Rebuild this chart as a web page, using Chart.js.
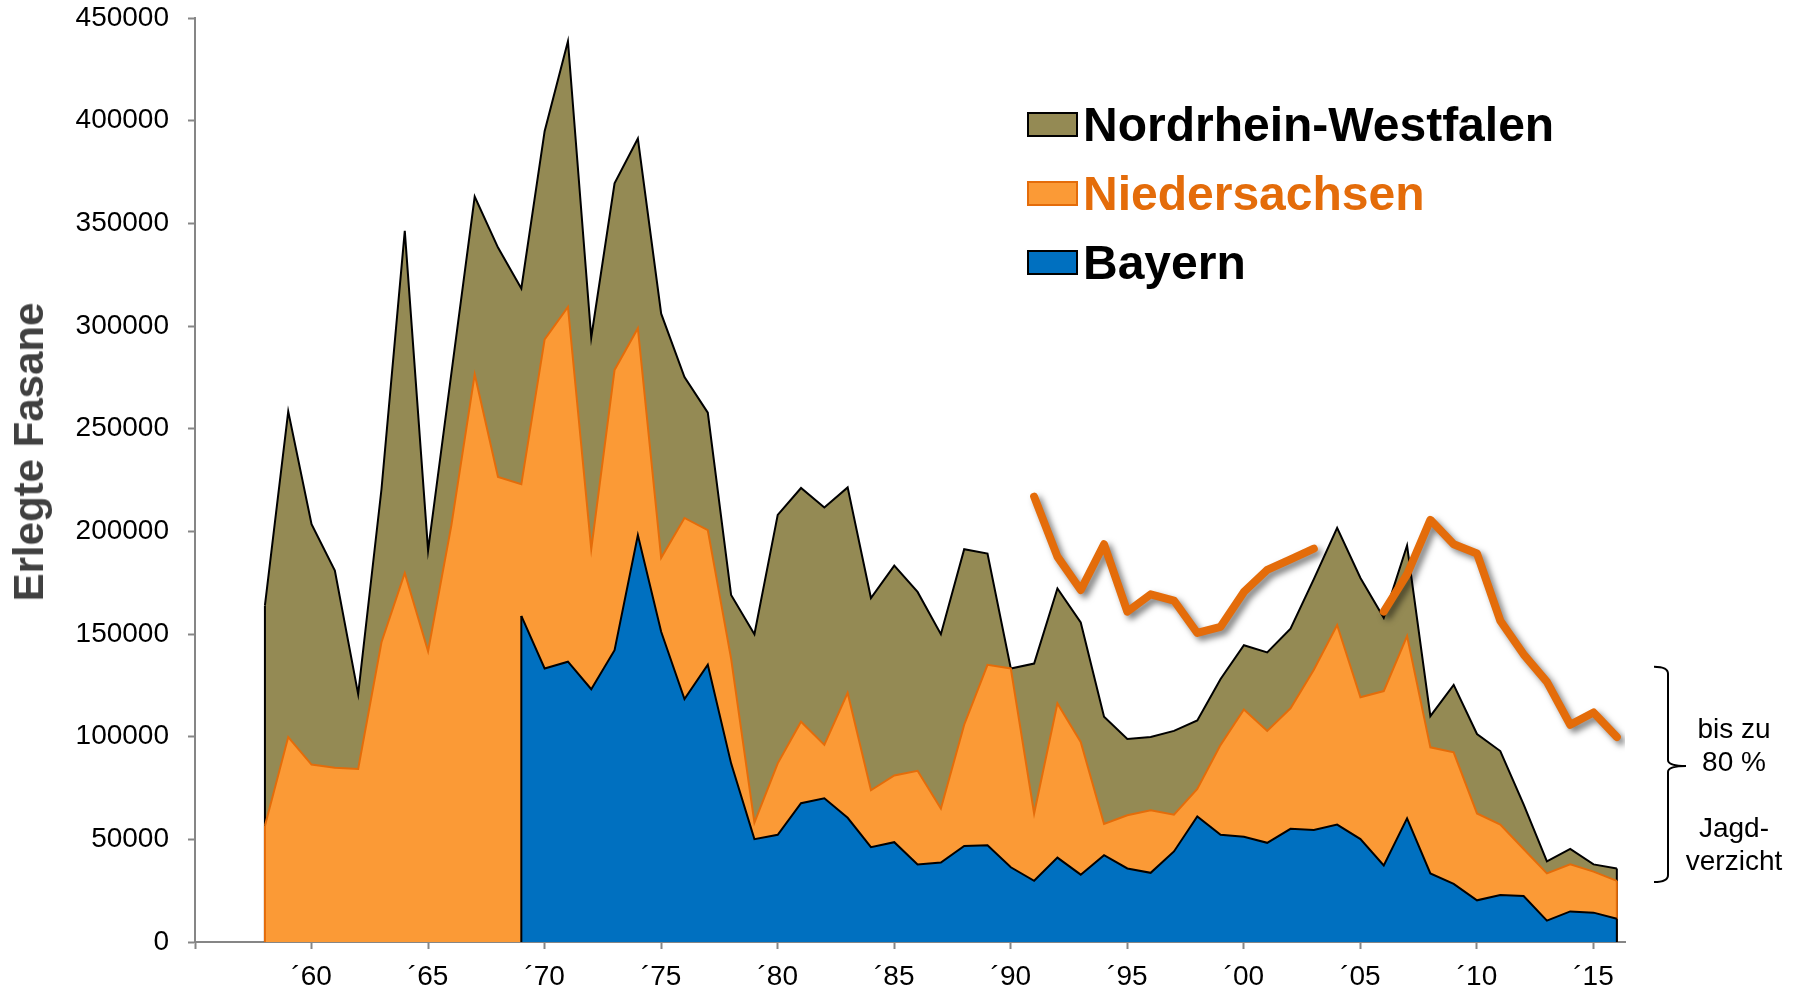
<!DOCTYPE html>
<html lang="de">
<head>
<meta charset="utf-8">
<title>Erlegte Fasane</title>
<script src="https://cdn.jsdelivr.net/npm/chart.js@4.4.1/dist/chart.umd.min.js"></script>
<style>
  html, body { margin: 0; padding: 0; background: #fff; }
  #wrap { position: relative; width: 1797px; height: 988px; overflow: hidden;
          font-family: 'Liberation Sans', Arial, sans-serif; }
  #chart { position: absolute; left: 0; top: 0; }
  .ytitle { position: absolute; left: 29px; top: 452px; transform: translate(-50%, -50%) rotate(-90deg);
            font-weight: bold; font-size: 42px; color: #404040; white-space: nowrap; }
  #legend { position: absolute; left: 1027px; top: 90px; }
  .item { display: flex; align-items: center; height: 69px; font-weight: bold; font-size: 48px; white-space: nowrap; }
  .swatch { width: 47px; height: 21px; border: 2px solid #000; margin-right: 5px; }
  .note { position: absolute; left: 1734px; top: 712px; transform: translateX(-50%);
          text-align: center; font-size: 28px; line-height: 33px; color: #000; }
</style>
</head>
<body>
<div id="wrap">
  <canvas id="chart" width="1797" height="988"></canvas>
  <div class="ytitle">Erlegte Fasane</div>
  <div id="legend"></div>
  <div class="note">bis zu<br>80 %<br><br>Jagd-<br>verzicht</div>
</div>
<script>
// ─── Data ────────────────────────────────────────────────────
const YEARS = Array.from({ length: 59 }, (_, i) => 1958 + i); // 1958 … 2016

// Bayern: no values before 1969
const BAYERN = [
  null, null, null, null, null, null, null, null, null, null, null,
  158800, 133200, 136500, 123100, 142100, 198200, 151100, 118300, 135000, 87000,
  50100, 52200, 67600, 70000, 60500, 46200, 48600, 37800, 38700, 46800,
  47100, 36400, 29800, 41100, 32800, 42300, 35800, 33700, 44100, 61100,
  52200, 51300, 48300, 55100, 54500, 57200, 50100, 37300, 60200, 33400,
  28300, 20300, 22900, 22400, 10400, 14900, 14300, 11300,
];

const NIEDERSACHSEN = [
  56600, 99800, 86400, 84900, 84300, 146000, 179700, 141600, 203000, 276500,
  226500, 64100, 160300, 172800, 68200, 136500, 100700, 36000, 88200, 65600,
  51000, 8000, 34800, 39700, 26000, 60800, 27700, 32500, 45600, 26300,
  59000, 87900, 96800, 32800, 75100, 64600, 15200, 25900, 30400, 17900,
  13400, 43800, 61900, 54500, 58700, 78100, 97200, 69100, 84900, 88800,
  61400, 64100, 42300, 34300, 22900, 23000, 22900, 20000, 18500,
];

const NRW = [
  107300, 158600, 117100, 96000, 36400, 74500, 166600, 49100, 74000, 86500,
  111700, 95400, 101400, 129400, 103100, 90900, 92400, 118900, 68600, 57200,
  31000, 91800, 121000, 113800, 115600, 100100, 93600, 102200, 87100, 84900,
  85500, 54200, 0, 73000, 56000, 58200, 52200, 37200, 35700, 40800,
  33400, 32100, 31300, 38200, 38800, 44100, 47300, 58100, 35700, 44100,
  15200, 32800, 38700, 35800, 21700, 5900, 7500, 3500, 6000,
];

// thick orange line (not stacked), gap in 2004/2005
const LINIE = [
  null, null, null, null, null, null, null, null, null, null,
  null, null, null, null, null, null, null, null, null, null,
  null, null, null, null, null, null, null, null, null, null,
  null, null, null, 216900, 187700, 171400, 193700, 160900, 169300, 166300,
  150500, 153500, 170500, 181200, 186300, 191600, null, null, 160900, 179000,
  205600, 193700, 189200, 156500, 140100, 126700, 105800, 111800, 99800,
];

const TICK_YEARS  = [1955, 1960, 1965, 1970, 1975, 1980, 1985, 1990, 1995, 2000, 2005, 2010, 2015];
const TICK_LABELS = ['', '´60', '´65', '´70', '´75', '´80', '´85', '´90', '´95', '´00', '´05', '´10', '´15'];

// curly brace on the right (value range it spans)
const BRACE = { top: 134000, mid: 85700, bottom: 29200 };

// ─── Colours ─────────────────────────────────────────────────
const COLORS = {
  olive:   '#948A54',
  orange:  '#FB9A36',
  orangeD: '#E46C0A',
  blue:    '#0070C0',
  axis:    '#868686',
};

const pairs = vals => YEARS.map((x, i) => ({ x, y: vals[i] }));

// ─── Plugins ─────────────────────────────────────────────────
// Excel draws the closing vertical edges of each area; do the same
const areaEdges = {
  id: 'areaEdges',
  afterDatasetDraw(chart, args) {
    const ds = chart.data.datasets[args.index];
    if (!ds.fill) return;
    const pts = args.meta.data.filter(p => !p.skip);
    if (!pts.length) return;
    const base = chart.scales.y.getPixelForValue(0);
    const ctx = chart.ctx;
    ctx.save();
    ctx.strokeStyle = ds.borderColor;
    ctx.lineWidth = ds.borderWidth;
    [pts[0], pts[pts.length - 1]].forEach(p => {
      ctx.beginPath();
      ctx.moveTo(p.x, p.y);
      ctx.lineTo(p.x, base);
      ctx.stroke();
    });
    ctx.restore();
  },
};

const lineShadow = {
  id: 'lineShadow',
  beforeDatasetDraw(chart, args) {
    if (!chart.data.datasets[args.index].shadow) return;
    const ctx = chart.ctx;
    ctx.save();
    ctx.shadowColor = 'rgba(0,0,0,0.5)';
    ctx.shadowBlur = 6;
    ctx.shadowOffsetX = 4;
    ctx.shadowOffsetY = 4;
  },
  afterDatasetDraw(chart, args) {
    if (!chart.data.datasets[args.index].shadow) return;
    chart.ctx.restore();
  },
};

const brace = {
  id: 'brace',
  afterDraw(chart) {
    const { ctx, chartArea: a, scales: { y } } = chart;
    const xe = a.right + 29, xv = a.right + 43, xt = a.right + 61;
    const t = y.getPixelForValue(BRACE.top);
    const m = y.getPixelForValue(BRACE.mid);
    const b = y.getPixelForValue(BRACE.bottom);
    ctx.save();
    ctx.strokeStyle = '#000';
    ctx.lineWidth = 2;
    ctx.beginPath();
    ctx.moveTo(xe, t);
    ctx.quadraticCurveTo(xv, t, xv, t + 7);
    ctx.lineTo(xv, m - 6);
    ctx.quadraticCurveTo(xv, m, xt, m);
    ctx.quadraticCurveTo(xv, m, xv, m + 6);
    ctx.lineTo(xv, b - 7);
    ctx.quadraticCurveTo(xv, b, xe, b);
    ctx.stroke();
    ctx.restore();
  },
};

// ─── Chart ───────────────────────────────────────────────────
Chart.defaults.font.family = "'Liberation Sans', Arial, sans-serif";
Chart.defaults.font.size = 28;
Chart.defaults.color = '#000';

const chart = new Chart(document.getElementById('chart'), {
  type: 'line',
  data: {
    datasets: [
      {
        label: 'Bayern',
        data: pairs(BAYERN),
        order: 1,
        fill: 'origin',
        backgroundColor: COLORS.blue,
        borderColor: '#000',
        borderWidth: 2,
      },
      {
        label: 'Niedersachsen',
        data: pairs(NIEDERSACHSEN),
        order: 2,
        fill: 'origin',
        backgroundColor: COLORS.orange,
        borderColor: COLORS.orangeD,
        borderWidth: 2,
      },
      {
        label: 'Nordrhein-Westfalen',
        data: pairs(NRW),
        order: 3,
        fill: 'origin',
        backgroundColor: COLORS.olive,
        borderColor: '#000',
        borderWidth: 2,
      },
      {
        label: 'Linie',
        data: pairs(LINIE),
        order: 0,
        stack: 'linie',
        fill: false,
        borderColor: COLORS.orangeD,
        borderWidth: 8,
        borderCapStyle: 'round',
        borderJoinStyle: 'round',
        spanGaps: false,
        shadow: true,
      },
    ],
  },
  options: {
    responsive: false,
    animation: false,
    layout: { padding: { left: 0, top: 18, right: 172, bottom: 0 } },
    elements: {
      point: { radius: 0, hoverRadius: 0 },
      line:  { tension: 0 },
    },
    plugins: {
      legend:  { display: false },
      tooltip: { enabled: false },
    },
    scales: {
      x: {
        type: 'linear',
        min: 1955,
        max: 2016.35,
        afterBuildTicks: s => { s.ticks = TICK_YEARS.map(v => ({ value: v })); },
        afterFit: s => { s.height = 46; },
        ticks: {
          callback: (v, i) => TICK_LABELS[i],
          autoSkip: false,
          maxRotation: 0,
          padding: 11,
        },
        grid:   { drawOnChartArea: false, tickLength: 7, color: COLORS.axis, tickWidth: 2 },
        border: { color: COLORS.axis, width: 2 },
      },
      y: {
        stacked: true,
        min: 0,
        max: 450000,
        // fixed width; let the top label overhang instead of pushing the plot down
        afterFit: s => { s.width = 195; s.paddingTop = 0; },
        ticks: {
          stepSize: 50000,
          callback: v => String(v),
          padding: 19,
        },
        grid:   { drawOnChartArea: false, tickLength: 7, color: COLORS.axis, tickWidth: 2 },
        border: { color: COLORS.axis, width: 2 },
      },
    },
  },
  plugins: [areaEdges, lineShadow, brace],
});

// ─── Legend (HTML, built from the datasets) ──────────────────
const legendEl = document.getElementById('legend');
[
  { ds: 2, text: '#000' },
  { ds: 1, text: COLORS.orangeD },
  { ds: 0, text: '#000' },
].forEach(({ ds, text }) => {
  const d = chart.data.datasets[ds];
  const row = document.createElement('div');
  row.className = 'item';
  row.style.color = text;
  const sw = document.createElement('div');
  sw.className = 'swatch';
  sw.style.background = d.backgroundColor;
  sw.style.borderColor = d.borderColor;
  row.appendChild(sw);
  row.appendChild(document.createTextNode(d.label));
  legendEl.appendChild(row);
});
</script>
</body>
</html>
